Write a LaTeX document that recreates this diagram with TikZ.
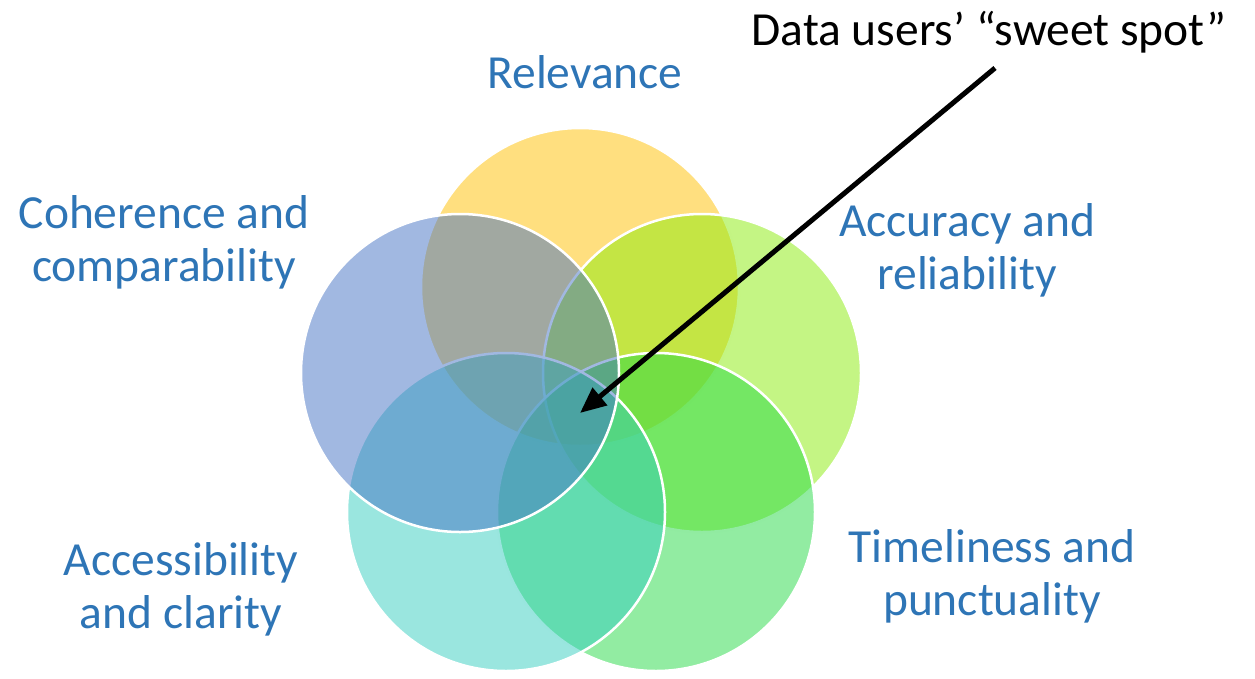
\documentclass[tikz,border=0pt]{standalone}
\usepackage{fontspec}
\setmainfont{Carlito}
\usetikzlibrary{arrows.meta}

\definecolor{labelblue}{RGB}{46,117,182}
\definecolor{cyellow}{RGB}{255,192,0}
\definecolor{climegreen}{RGB}{137,235,9}
\definecolor{cgreen}{RGB}{37,217,69}
\definecolor{cteal}{RGB}{53,205,191}
\definecolor{cblue}{RGB}{68,114,196}

\tikzset{
  venn/.style={circle, minimum size=318pt, inner sep=0pt,
    draw=white, line width=2.5pt, fill opacity=0.5},
  qlabel/.style={text=labelblue, align=center, inner sep=0pt,
    font=\fontsize{47.5}{53}\selectfont},
  callout/.style={text=black, inner sep=0pt,
    font=\fontsize{47.5}{53}\selectfont},
  pointer/.style={line width=5pt, black,
    -{Triangle[length=26pt,width=22pt]}}
}

\begin{document}
\begin{tikzpicture}[x=1pt,y=-1pt]
  \useasboundingbox (0,0) rectangle (1255,678);

  % five overlapping quality dimensions, drawn clockwise from the top
  \node[venn, fill=cyellow]    (relevance)     at (580,287) {};
  \node[venn, fill=climegreen] (accuracy)      at (702,373) {};
  \node[venn, fill=cgreen]     (timeliness)    at (656,512) {};
  \node[venn, fill=cteal]      (accessibility) at (506,512) {};
  \node[venn, fill=cblue]      (coherence)     at (460,373) {};

  % dimension labels
  \node[qlabel] (lrelevance) at (585,72) {Relevance};
  \node[qlabel] (lcoherence) at (164,242) {Coherence and\\comparability};
  \node[qlabel] (laccuracy) at (967,250) {Accuracy and\\reliability};
  \node[qlabel] (ltimeliness) at (992,576) {Timeliness and\\punctuality};
  \node[qlabel] (laccessibility) at (181,589) {Accessibility\\and clarity};

  % callout pointing at the common intersection
  \node[callout] (sweettext) at (989,32) {Data users’ “sweet spot”};
  \coordinate (pointerstart) at (995,68);
  \coordinate (sweetspot) at (580,413);
  \draw[pointer] (pointerstart) -- (sweetspot);
\end{tikzpicture}
\end{document}
